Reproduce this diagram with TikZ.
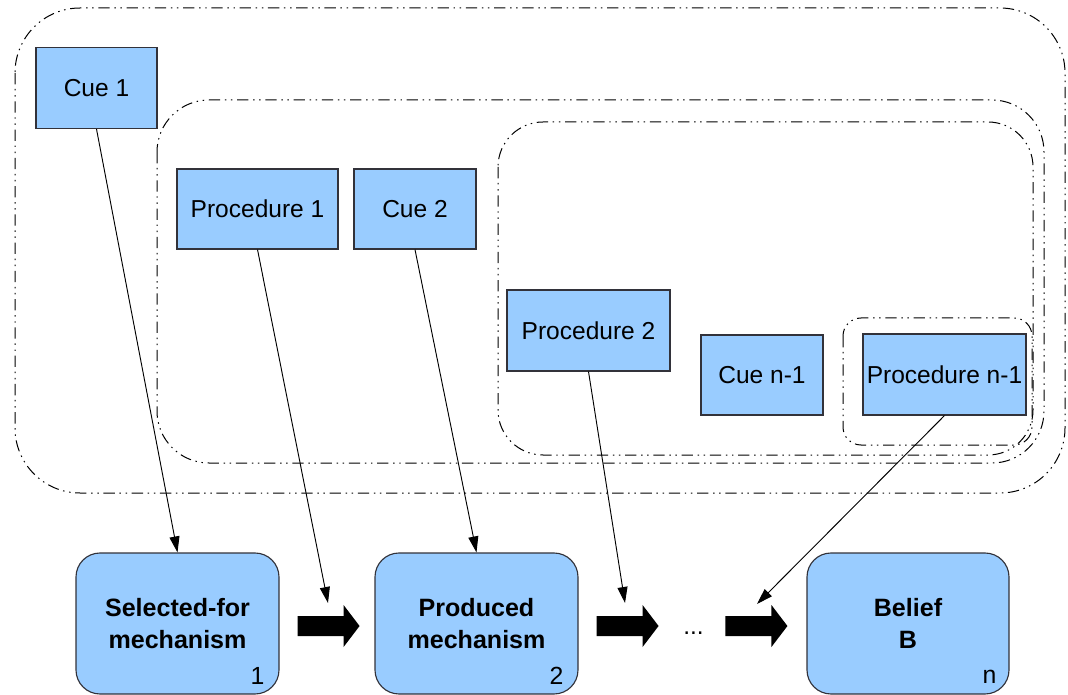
\documentclass[tikz,border=0pt]{standalone}
\usepackage{fontspec}
\setmainfont{Liberation Sans}
\usetikzlibrary{calc,arrows.meta}
\newdimen\pxu \pxu=0.75pt
\definecolor{boxfill}{RGB}{153,204,255}
\definecolor{boxline}{RGB}{50,50,58}

\begin{document}
\begin{tikzpicture}[x=0.75pt,y=-0.75pt,
  region/.style={draw=black, line width=0.75pt,
    dash pattern=on 8.5pt off 3.5pt on 1.1pt off 3.5pt on 1.1pt off 3.5pt},
  cuebox/.style={draw=boxline, fill=boxfill, line width=0.85pt, inner sep=0pt,
    minimum height=81\pxu, font=\fontsize{18.4}{22}\selectfont},
  mech/.style={draw=boxline, fill=boxfill, line width=0.85pt, rounded corners=18pt,
    minimum width=203\pxu, minimum height=141\pxu, align=center, inner sep=0pt,
    font=\bfseries\fontsize{18.8}{24}\selectfont},
  idx/.style={anchor=base east, inner sep=0pt, font=\fontsize{18.6}{22}\selectfont},
  feed/.style={draw=black, line width=0.7pt, -{Triangle[length=12pt,width=7.5pt]}},
  fat/.pic={\fill[black] (0,-10) -- (46,-10) -- (46,-21) -- (62,0) -- (46,21) -- (46,10) -- (0,10) -- cycle;}
]
\useasboundingbox (0,0) rectangle (1068,695);

% nested groupings of cues and procedures
\draw[region, rounded corners=48.75pt] (15,8) rectangle (1065,493);
\draw[region, rounded corners=39pt] (157,100) rectangle (1044,463);
\draw[region, rounded corners=33.75pt] (498,122) rectangle (1033,455);
\draw[region, rounded corners=13.5pt] (843,318) rectangle (1032,445);

% cues and procedures
\node[cuebox, minimum width=121\pxu] (cue1) at (96.5,88) {Cue 1};
\node[cuebox, minimum width=161\pxu, minimum height=80\pxu] (proc1) at (257.5,209) {Procedure 1};
\node[cuebox, minimum width=122\pxu, minimum height=80\pxu] (cue2) at (415,209) {Cue 2};
\node[cuebox, minimum width=163\pxu] (proc2) at (588.5,330.5) {Procedure 2};
\node[cuebox, minimum width=122\pxu, minimum height=80\pxu] (cuen) at (762,375) {Cue n-1};
\node[cuebox, minimum width=163\pxu] (procn) at (944.5,374.5) {Procedure n-1};

% mechanisms
\node[mech] (sel) at (177.5,623.5) {Selected-for\\mechanism};
\node[mech] (prod) at (476.5,623.5) {Produced\\mechanism};
\node[mech, minimum width=202\pxu] (belief) at (908,623.5) {Belief\\B};

\node[idx] (n1) at ($(sel.south east)+(-15,-10)$) {1};
\node[idx] (n2) at ($(prod.south east)+(-15,-10)$) {2};
\node[idx] (nn) at ($(belief.south east)+(-13,-11)$) {n};

% transitions between mechanisms
\pic at ($(sel.east)+(18,2.5)$) {fat};
\pic at ($(prod.east)+(18,2.5)$) {fat};
\pic at ($(belief.west)+(-81,2.5)$) {fat};
\node[anchor=base, inner sep=0pt, font=\fontsize{18.4}{22}\selectfont] (dots) at (693.5,634) {...};

% free ends of the feeding arrows
\coordinate (tip1) at (328,603);
\coordinate (tip2) at (625,603);
\coordinate (tip3) at (757,604);

\draw[feed] (cue1.south) -- (sel.north);
\draw[feed] (proc1.south) -- (tip1);
\draw[feed] (cue2.south) -- (prod.north);
\draw[feed] (proc2.south) -- (tip2);
\draw[feed] (procn.south) -- (tip3);
\end{tikzpicture}
\end{document}
